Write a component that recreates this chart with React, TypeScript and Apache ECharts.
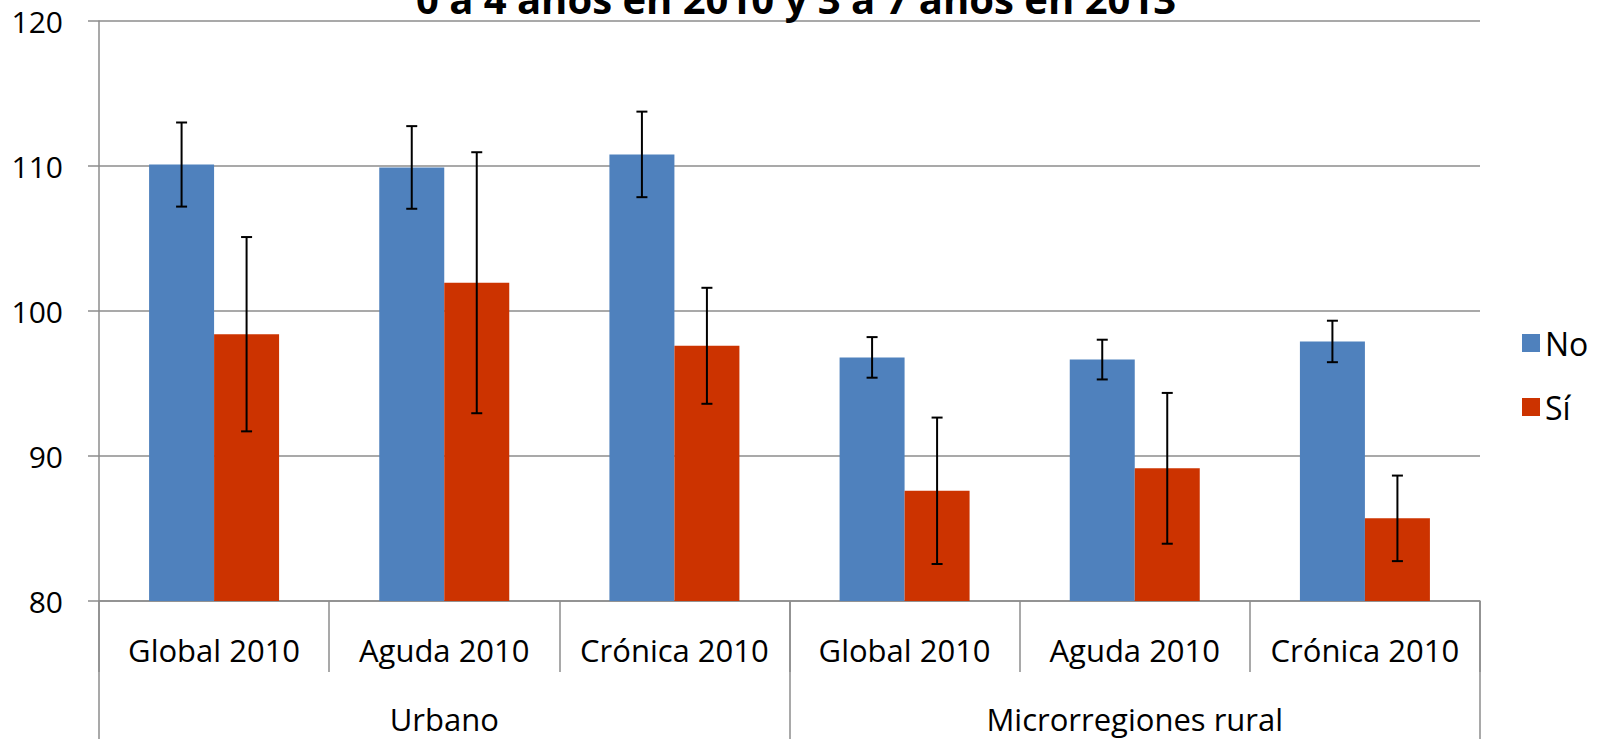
import React, { useEffect, useRef } from "react";
import * as echarts from "echarts";

const titleText = "0 a 4 años en 2010 y 3 a 7 años en 2013";
const categories = ["Global 2010", "Aguda 2010", "Crónica 2010", "Global 2010", "Aguda 2010", "Crónica 2010"];
const groups = ["Urbano", "Microrregiones rural"];
const seriesNames = ["No", "Sí"];
const noMean = [110.1, 109.9, 110.8, 96.8, 96.65, 97.9];
const noErr = [2.9, 2.85, 2.95, 1.4, 1.37, 1.43];
const siMean = [98.4, 101.95, 97.6, 87.6, 89.15, 85.7];
const siErr = [6.7, 9.0, 4.0, 5.05, 5.2, 2.95];
const yTicks = { min: 80, max: 120, interval: 10 };

const FONT = "'Open Sans', sans-serif";
const GRAY = "#8c8c8c";
const BAR_W = 65;

function errorSeries(name: string, mean: number[], err: number[], offset: number) {
  return {
    type: "custom",
    name: name + "-err",
    xAxisIndex: 0,
    yAxisIndex: 0,
    z: 10,
    data: mean.map((m, i) => [i, m, err[i]]),
    renderItem: (params: any, api: any) => {
      const i = api.value(0);
      const m = api.value(1);
      const e = api.value(2);
      const top = api.coord([i, m + e]);
      const bot = api.coord([i, m - e]);
      const x = top[0] + offset;
      const cap = 5.5;
      const st = { stroke: "#000", lineWidth: 2 };
      return {
        type: "group",
        children: [
          { type: "line", shape: { x1: x, y1: top[1], x2: x, y2: bot[1] }, style: st },
          { type: "line", shape: { x1: x - cap, y1: top[1], x2: x + cap, y2: top[1] }, style: st },
          { type: "line", shape: { x1: x - cap, y1: bot[1], x2: x + cap, y2: bot[1] }, style: st },
        ],
      };
    },
  };
}

export default function App() {
  const ref = useRef<HTMLDivElement>(null);
  useEffect(() => {
    document.body.style.margin = "0";
    document.body.style.overflow = "hidden";
    const chart = echarts.init(ref.current!, null, { renderer: "svg" });
    chart.setOption({
      animation: false,
      backgroundColor: "#fff",
      textStyle: { fontFamily: FONT },
      graphic: [
        {
          type: "text",
          x: 796,
          y: -2,
          z: 100,
          style: {
            text: titleText,
            fontSize: 40,
            fontWeight: "bold",
            fontFamily: FONT,
            fill: "#000",
            textAlign: "center",
            textVerticalAlign: "middle",
            align: "center",
            verticalAlign: "middle",
          },
        },
      ],
      legend: {
        data: seriesNames,
        orient: "vertical",
        left: 1517,
        top: 322,
        itemWidth: 18,
        itemHeight: 18,
        itemGap: 32,
        icon: "rect",
        textStyle: { fontSize: 32, lineHeight: 32, color: "#000", fontFamily: FONT },
      },
      grid: { left: 99, right: 123, top: 21, bottom: 138, containLabel: false },
      xAxis: [
        {
          type: "category",
          data: categories,
          position: "bottom",
          boundaryGap: true,
          axisLine: { show: true, lineStyle: { color: GRAY, width: 1.5 } },
          axisTick: { show: true, interval: 0, length: 71, lineStyle: { color: GRAY, width: 1.5 } },
          axisLabel: { interval: 0, margin: 33, fontSize: 31, lineHeight: 31, color: "#000", fontFamily: FONT },
        },
        {
          type: "category",
          data: groups,
          position: "bottom",
          boundaryGap: true,
          axisLine: { show: false },
          axisTick: { show: true, interval: 0, length: 140, lineStyle: { color: GRAY, width: 1.5 } },
          axisLabel: { interval: 0, margin: 102, fontSize: 31, lineHeight: 31, color: "#000", fontFamily: FONT },
        },
      ],
      yAxis: {
        type: "value",
        min: yTicks.min,
        max: yTicks.max,
        interval: yTicks.interval,
        axisLine: { show: true, lineStyle: { color: GRAY, width: 1.5 } },
        axisTick: { show: true, length: 11, lineStyle: { color: GRAY, width: 1.5 } },
        axisLabel: { margin: 36, fontSize: 30, color: "#000", fontFamily: FONT },
        splitLine: { show: true, lineStyle: { color: GRAY, width: 1.5 } },
      },
      series: [
        {
          type: "bar",
          name: seriesNames[0],
          data: noMean,
          barWidth: BAR_W,
          barGap: "0%",
          itemStyle: { color: "#4F81BD" },
        },
        {
          type: "bar",
          name: seriesNames[1],
          data: siMean,
          barWidth: BAR_W,
          barGap: "0%",
          itemStyle: { color: "#CC3300" },
        },
        errorSeries(seriesNames[0], noMean, noErr, -BAR_W / 2),
        errorSeries(seriesNames[1], siMean, siErr, BAR_W / 2),
      ],
    });
    return () => chart.dispose();
  }, []);
  return <div ref={ref} style={{ width: 1603, height: 739 }} />;
}
